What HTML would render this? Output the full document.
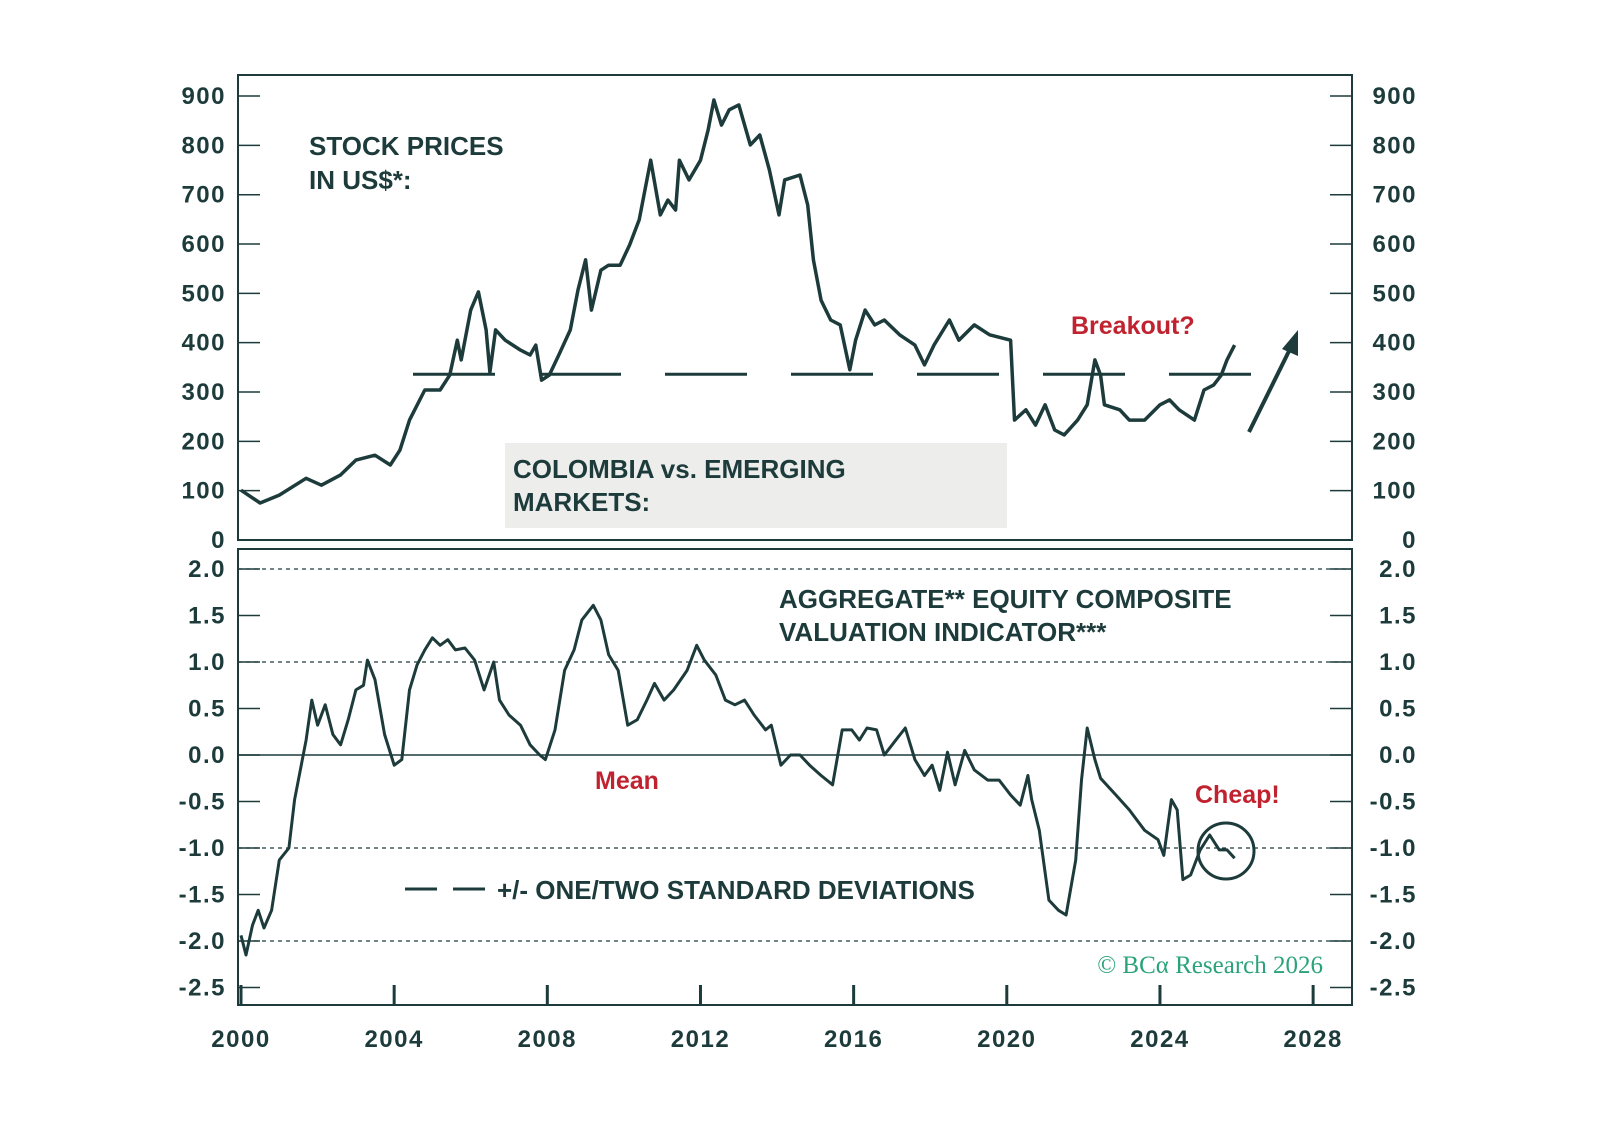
<!DOCTYPE html>
<html><head><meta charset="utf-8">
<style>
html,body{margin:0;padding:0;background:#fff;}
svg{display:block;}
text{font-family:"Liberation Sans",sans-serif;font-weight:bold;fill:#1d3b3b;}
</style></head>
<body>
<svg width="1598" height="1144" viewBox="0 0 1598 1144" xmlns="http://www.w3.org/2000/svg">
<g id="root"></g>
</svg>
<script>
const priceYears=[2000,2000.5,2001,2001.7,2002.1,2002.6,2003,2003.5,2003.9,2004.15,2004.4,2004.8,2005.2,2005.45,2005.65,2005.75,2006,2006.2,2006.4,2006.5,2006.65,2006.9,2007.3,2007.55,2007.7,2007.85,2008.05,2008.3,2008.6,2008.8,2009,2009.15,2009.4,2009.6,2009.9,2010.15,2010.4,2010.7,2010.95,2011.15,2011.35,2011.45,2011.7,2012,2012.2,2012.35,2012.55,2012.75,2013,2013.3,2013.55,2013.8,2014.05,2014.2,2014.6,2014.8,2014.95,2015.15,2015.4,2015.65,2015.9,2016.05,2016.3,2016.55,2016.8,2017.2,2017.6,2017.85,2018.1,2018.5,2018.75,2019.15,2019.55,2020.1,2020.2,2020.5,2020.75,2021,2021.25,2021.5,2021.85,2022.1,2022.3,2022.45,2022.55,2022.95,2023.2,2023.6,2024,2024.25,2024.5,2024.9,2025.15,2025.4,2025.6,2025.75,2025.95];
const priceValues=[101,75,91,125,111,132,162,172,152,182,243,304,304,334,405,365,466,503,426,340,426,405,385,375,395,324,334,375,426,507,568,466,547,557,557,598,649,770,659,689,669,770,730,770,831,892,841,872,882,801,821,750,659,730,740,679,568,486,446,436,345,405,466,436,446,416,395,355,395,446,405,436,416,405,243,264,233,274,223,213,243,274,365,334,274,264,243,243,274,284,264,243,304,314,334,365,395];
const valYears=[2000,2000.13,2000.3,2000.45,2000.6,2000.8,2001,2001.25,2001.4,2001.7,2001.85,2002,2002.2,2002.4,2002.6,2002.8,2003,2003.2,2003.3,2003.5,2003.75,2004,2004.2,2004.4,2004.6,2004.8,2005,2005.2,2005.4,2005.6,2005.85,2006.1,2006.35,2006.6,2006.75,2007,2007.3,2007.55,2007.8,2007.95,2008.2,2008.45,2008.7,2008.9,2009.2,2009.4,2009.6,2009.85,2010.1,2010.35,2010.6,2010.8,2011.05,2011.3,2011.65,2011.9,2012.1,2012.4,2012.65,2012.9,2013.15,2013.4,2013.7,2013.85,2014.1,2014.35,2014.6,2014.85,2015.15,2015.45,2015.7,2015.95,2016.15,2016.35,2016.6,2016.8,2017.1,2017.35,2017.6,2017.85,2018.05,2018.25,2018.45,2018.65,2018.9,2019.15,2019.5,2019.8,2020.1,2020.35,2020.55,2020.65,2020.85,2021.1,2021.35,2021.55,2021.8,2021.95,2022.1,2022.3,2022.45,2022.85,2023.2,2023.6,2023.95,2024.1,2024.3,2024.45,2024.6,2024.8,2025.05,2025.3,2025.55,2025.75,2025.95];
const valValues=[-1.94,-2.15,-1.83,-1.67,-1.86,-1.67,-1.13,-1.0,-0.48,0.16,0.59,0.32,0.54,0.22,0.11,0.38,0.70,0.75,1.02,0.81,0.22,-0.11,-0.05,0.70,0.97,1.13,1.26,1.18,1.24,1.13,1.15,1.02,0.70,1.0,0.59,0.43,0.32,0.11,0,-0.05,0.27,0.91,1.13,1.45,1.61,1.45,1.08,0.91,0.32,0.38,0.59,0.77,0.59,0.70,0.91,1.18,1.02,0.86,0.59,0.54,0.59,0.43,0.27,0.32,-0.11,0,0,-0.11,-0.22,-0.32,0.27,0.27,0.16,0.29,0.27,0,0.16,0.29,-0.05,-0.22,-0.11,-0.38,0.03,-0.32,0.05,-0.16,-0.27,-0.27,-0.43,-0.54,-0.22,-0.48,-0.81,-1.56,-1.67,-1.72,-1.13,-0.27,0.29,-0.05,-0.25,-0.43,-0.59,-0.81,-0.91,-1.08,-0.48,-0.59,-1.34,-1.29,-1.02,-0.86,-1.02,-1.02,-1.11];
const topTicks=[0,100,200,300,400,500,600,700,800,900];
const botTicks=[-2.5,-2.0,-1.5,-1.0,-0.5,0.0,0.5,1.0,1.5,2.0];
const xTicks=[2000,2004,2008,2012,2016,2020,2024,2028];
const supportLevel=336;

const X=y=>241+(y-2000)*38.29;
const YT=v=>540-v*0.4933;
const YB=v=>755-v*93;
const NS="http://www.w3.org/2000/svg";
const root=document.getElementById('root');
function mk(tag,attrs,txt){const e=document.createElementNS(NS,tag);for(const k in attrs)e.setAttribute(k,attrs[k]);if(txt!==undefined)e.textContent=txt;root.appendChild(e);return e;}
const C="#1d3b3b";

let e=mk('rect',{x:505,y:443,width:502,height:85,fill:'#ededeb'});



e=mk('rect',{x:238,y:75,width:1114,height:465,fill:'none',stroke:C,'stroke-width':2});


e=mk('rect',{x:238,y:549,width:1114,height:456,fill:'none',stroke:C,'stroke-width':2});



const tickStyle='letter-spacing:1.5px';
topTicks.forEach(t=>{
  const y=YT(t);
  if(t>0){mk('line',{x1:238,x2:260,y1:y,y2:y,stroke:C,'stroke-width':1.5});
  mk('line',{x1:1330,x2:1352,y1:y,y2:y,stroke:C,'stroke-width':1.5});}
  e=mk('text',{x:226,y:y+8,'text-anchor':'end','font-size':24,style:tickStyle},String(t));
  
  
  e=mk('text',{x:1417,y:y+8,'text-anchor':'end','font-size':24,style:tickStyle},String(t));
  
  
});
botTicks.forEach(t=>{
  const y=YB(t);
  mk('line',{x1:238,x2:260,y1:y,y2:y,stroke:C,'stroke-width':1.5});
  mk('line',{x1:1330,x2:1352,y1:y,y2:y,stroke:C,'stroke-width':1.5});
  const s=t.toFixed(1);
  e=mk('text',{x:226,y:y+8,'text-anchor':'end','font-size':24,style:tickStyle},s);
  
  
  e=mk('text',{x:1417,y:y+8,'text-anchor':'end','font-size':24,style:tickStyle},s);
  
  
});
xTicks.forEach(t=>{
  const x=X(t);
  mk('line',{x1:x,x2:x,y1:1005,y2:985,stroke:C,'stroke-width':3});
  e=mk('text',{x:x,y:1047,'text-anchor':'middle','font-size':24,style:tickStyle},String(t));
  
  
});
[2,1,-1,-2].forEach(v=>{
  e=mk('line',{x1:238,x2:1352,y1:YB(v),y2:YB(v),stroke:C,'stroke-width':1.3,'stroke-dasharray':'4 4'});
  
  
});
e=mk('line',{x1:238,x2:1352,y1:YB(0),y2:YB(0),stroke:C,'stroke-width':1.5});



e=mk('line',{x1:413,x2:1252,y1:YT(supportLevel),y2:YT(supportLevel),stroke:C,'stroke-width':3,'stroke-dasharray':'82 44'});



let d=priceYears.map((y,i)=>(i?'L':'M')+X(y).toFixed(1)+' '+YT(priceValues[i]).toFixed(1)).join(' ');
e=mk('path',{d:d,fill:'none',stroke:C,'stroke-width':3.5,'stroke-linejoin':'round'});


d=valYears.map((y,i)=>(i?'L':'M')+X(y).toFixed(1)+' '+YB(valValues[i]).toFixed(1)).join(' ');
e=mk('path',{d:d,fill:'none',stroke:C,'stroke-width':3,'stroke-linejoin':'round'});



e=mk('line',{x1:1249,y1:432,x2:1292,y2:345,stroke:C,'stroke-width':4});


mk('polygon',{points:'1298,330 1298,356 1282,349',fill:C});
e=mk('circle',{cx:1226,cy:851,r:28,fill:'none',stroke:C,'stroke-width':3});



function T(x,y,s,size,name,col,anchor){const t=mk('text',{x:x,y:y,'font-size':size,'text-anchor':anchor||'start'},s);if(col)t.setAttribute('style','fill:'+col);return t;}
e=T(309,155,'STOCK PRICES',26);
e=T(309,189,'IN US$*:',26);
e=T(513,478,'COLOMBIA vs. EMERGING',26);
e=T(513,511,'MARKETS:',26);
e=T(1071,334,'Breakout?',25,'','#c0232f');
e=T(779,608,'AGGREGATE** EQUITY COMPOSITE',26);
e=T(779,641,'VALUATION INDICATOR***',26);
e=T(595,789,'Mean',25,'','#c0232f');
e=T(1195,803,'Cheap!',25,'','#c0232f');
e=mk('line',{x1:405,x2:485,y1:889,y2:889,stroke:C,'stroke-width':3,'stroke-dasharray':'32 16'});

e=T(497,899,'+/- ONE/TWO STANDARD DEVIATIONS',26);
e=mk('text',{x:1323,y:973,'text-anchor':'end','font-size':25,style:'fill:#2aa37a;font-family:"Liberation Serif",serif;font-weight:normal'},'© BCα Research 2026');

</script>
</body></html>
